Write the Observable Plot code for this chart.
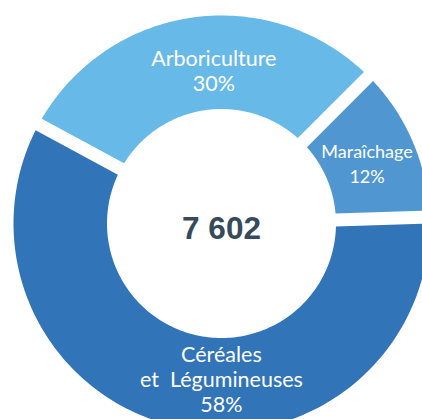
<!DOCTYPE html>
<html>
<head>
<meta charset="utf-8">
<script src="https://cdn.jsdelivr.net/npm/d3@7"></script>
<script src="https://cdn.jsdelivr.net/npm/@observablehq/plot@0.6"></script>
<style>
  html, body { margin: 0; padding: 0; background: #fff; }
  #chart { width: 422px; height: 419px; overflow: hidden; }
</style>
</head>
<body>
<div id="chart"></div>
<script>
// ---- data ----
const categories = ["Maraîchage", "Céréales\net\u00a0 Légumineuses", "Arboriculture"];
const shares = [12.0, 58.4, 29.6];          // percent of total
const colors = ["#5097d2", "#3174b8", "#67b9e8"];
const total = 7602;

// ---- layout constants (pixels) ----
const W = 422, H = 419;
const cx = 221, cy = 223;           // centre of the ring
const Rpx = 208, rpx = 114.5;       // outer / inner radius
const halfGap = 6.5;                // half of the white gap between slices
const startDeg = 45;                // first slice starts here (clockwise from 12 o'clock)

const R = 1, ri = rpx / Rpx, h = halfGap / Rpx;
const pie = d3.pie().sort(null).value(d => d.share)
  .startAngle(startDeg * Math.PI / 180)
  .endAngle(startDeg * Math.PI / 180 + 2 * Math.PI);
const rows = categories.map((c, i) => ({cat: c, share: shares[i]}));
const arcs = pie(rows);

// polygon points for each slice (derived from the pie angles)
const pts = [];
const n = 160;
for (const a of arcs) {
  const dO = Math.asin(h / R), dI = Math.asin(h / ri);
  for (let t = 0; t <= n; t++) {
    const ang = (a.startAngle + dO) + ((a.endAngle - dO) - (a.startAngle + dO)) * t / n;
    pts.push({cat: a.data.cat, x: R * Math.sin(ang), y: R * Math.cos(ang)});
  }
  for (let t = n; t >= 0; t--) {
    const ang = (a.startAngle + dI) + ((a.endAngle - dI) - (a.startAngle + dI)) * t / n;
    pts.push({cat: a.data.cat, x: ri * Math.sin(ang), y: ri * Math.cos(ang)});
  }
}

// label placement: bisector angle with small per-slice angular nudges
const labelNudgeDeg = {"Maraîchage": 0.5, "Céréales\net\u00a0 Légumineuses": -13.3, "Arboriculture": 5.4};
const labelRadius = {"Maraîchage": 158 / Rpx, "Céréales\net\u00a0 Légumineuses": 155 / Rpx, "Arboriculture": 153 / Rpx};
const labels = arcs.map(a => {
  const mid = (a.startAngle + a.endAngle) / 2 + labelNudgeDeg[a.data.cat] * Math.PI / 180;
  const rr = labelRadius[a.data.cat];
  return {
    cat: a.data.cat,
    x: rr * Math.sin(mid), y: rr * Math.cos(mid),
    text: a.data.cat + "\n" + Math.round(a.data.share) + "%",
    small: a.data.cat === "Maraîchage"
  };
});

const fmt = d3.formatLocale({thousands: " ", grouping: [3], decimal: ",", currency: ["", ""]}).format(",d");

const chart = Plot.plot({
  width: W, height: H,
  margin: 0,
  x: {domain: [-cx / Rpx, (W - cx) / Rpx], axis: null},
  y: {domain: [-(H - cy) / Rpx, cy / Rpx], axis: null},
  color: {domain: categories, range: colors},
  style: {background: "#fff"},
  marks: [
    Plot.line(pts, {x: "x", y: "y", z: "cat", fill: "cat", stroke: "none"}),
    Plot.text(labels.filter(d => !d.small), {
      x: "x", y: "y", text: "text", fill: "#fff",
      fontFamily: "Lato", fontSize: 21.5, lineHeight: 1.163, lineAnchor: "middle"
    }),
    Plot.text(labels.filter(d => d.small), {
      x: "x", y: "y", text: "text", fill: "#fff",
      fontFamily: "Lato", fontSize: 18, lineHeight: 1.39, lineAnchor: "middle"
    }),
    Plot.text([total], {
      x: () => 0, y: () => 0, text: d => fmt(d), fill: "#374a5b",
      fontFamily: "Liberation Sans", fontWeight: "bold", fontSize: 31.5, dy: 5
    })
  ]
});
document.getElementById("chart").append(chart);
</script>
</body>
</html>
